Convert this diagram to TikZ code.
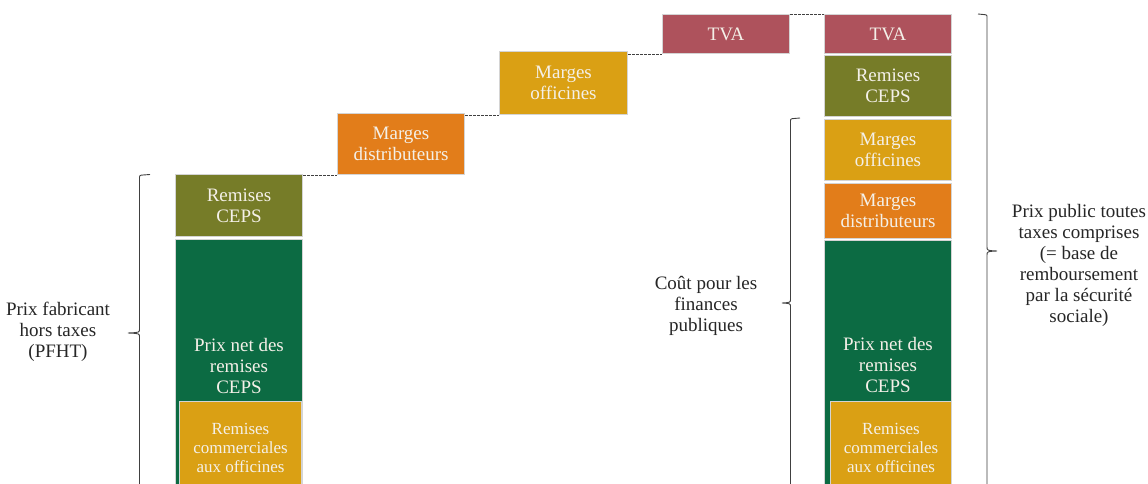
\documentclass[tikz,border=0pt]{standalone}
\usepackage{fontspec}
\setmainfont{Liberation Serif}
\definecolor{cTVA}{HTML}{AE525C}
\definecolor{cCEPS}{HTML}{767C28}
\definecolor{cOff}{HTML}{DAA014}
\definecolor{cDist}{HTML}{E27D1A}
\definecolor{cNet}{HTML}{0C6B43}
\definecolor{cBorder}{HTML}{D4D4D4}
\definecolor{cTxt}{HTML}{F4F0E8}
\definecolor{cLine}{HTML}{404040}
\tikzset{
  box/.style={draw=cBorder, line width=1pt, anchor=north west, text=cTxt,
    align=center, inner sep=0pt, font=\fontsize{19}{21}\selectfont},
  smallbox/.style={box, font=\fontsize{17}{19}\selectfont},
  lbl/.style={align=center, text=black!85, font=\fontsize{19}{21}\selectfont},
  link/.style={draw=cLine, line width=0.8pt, dash pattern=on 2.5pt off 1.5pt},
  brace/.style={draw=cLine, line width=0.9pt}
}
\begin{document}
\begin{tikzpicture}[x=1pt,y=-1pt]
\clip (0,0) rectangle (1148,484);
\fill[white] (0,0) rectangle (1148,484);
% left column
\node[box, fill=cCEPS, minimum width=127, minimum height=62] (ceps1) at (175,174) {Remises\\CEPS};
\node[box, fill=cNet, minimum width=127, minimum height=252] (net1) at (175,239) {Prix net des\\remises\\CEPS};
\node[smallbox, fill=cOff, minimum width=122, minimum height=92] (com1) at (179,401) {Remises\\commerciales\\aux officines};
% staircase
\node[box, fill=cDist, minimum width=127, minimum height=61] (dist1) at (337,113) {Marges\\distributeurs};
\node[box, fill=cOff, minimum width=128, minimum height=63] (off1) at (499,51) {Marges\\officines};
\node[box, fill=cTVA, minimum width=127, minimum height=39] (tva1) at (662,14) {TVA};
% right column
\node[box, fill=cTVA, minimum width=127, minimum height=39] (tva2) at (824,14) {TVA};
\node[box, fill=cCEPS, minimum width=127, minimum height=61] (ceps2) at (824,55) {Remises\\CEPS};
\node[box, fill=cOff, minimum width=127, minimum height=61] (off2) at (824,119) {Marges\\officines};
\node[box, fill=cDist, minimum width=127, minimum height=55] (dist2) at (824,183) {Marges\\distributeurs};
\node[box, fill=cNet, minimum width=127, minimum height=248] (net2) at (824,240) {Prix net des\\remises\\CEPS};
\node[smallbox, fill=cOff, minimum width=121, minimum height=92] (com2) at (830,401) {Remises\\commerciales\\aux officines};
% dashed links (horizontal, at the level of the next box's lower edge)
\draw[link] (dist1.south west -| ceps1.north east) -- (dist1.south west);
\draw[link] (off1.south west -| dist1.north east) -- (off1.south west);
\draw[link] (tva1.south west -| off1.north east) -- (tva1.south west);
\draw[link] (tva2.north west -| tva1.north east) -- (tva2.north west);
% braces
\draw[brace] (150,174.5) -- (143,175) .. controls (139.5,175.3) .. (139.5,179) -- (139.5,329) .. controls (139.5,332.5) .. (128,333) .. controls (139.5,333.5) .. (139.5,337) -- (139.5,495);
\draw[brace] (800,118) -- (794,118.5) .. controls (790.5,118.8) .. (790.5,122) -- (790.5,299) .. controls (790.5,302.5) .. (782,303) .. controls (790.5,303.5) .. (790.5,307) -- (790.5,495);
\draw[brace] (978,14) -- (983,14.5) .. controls (987,14.8) .. (987,18) -- (987,247) .. controls (987,250.5) .. (997,251) .. controls (987,251.5) .. (987,255) -- (987,495);
% labels
\node[lbl] (pfht) at (58,332) {Prix fabricant\\hors taxes\\(PFHT)};
\node[lbl] (cout) at (706,306) {Coût pour les\\finances\\publiques};
\node[lbl] (pttc) at (1079,265) {Prix public toutes\\taxes comprises\\(= base de\\remboursement\\par la sécurité\\sociale)};
\end{tikzpicture}
\end{document}
